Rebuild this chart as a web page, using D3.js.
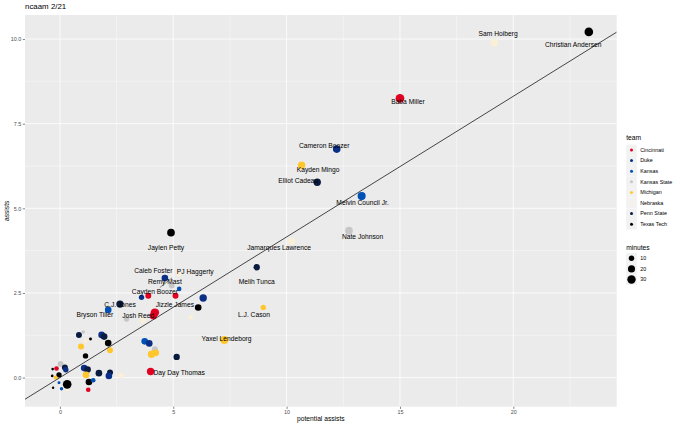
<!DOCTYPE html>
<html>
<head>
<meta charset="utf-8">
<script src="https://cdn.jsdelivr.net/npm/d3@7"></script>
<style>
  html, body { margin: 0; padding: 0; background: #fff; }
  svg { display: block; font-family: "Liberation Sans", Arial, sans-serif; }
</style>
</head>
<body>
<svg id="chart" width="680" height="426"></svg>
<script>
// --- data ---
const title = "ncaam 2/21";
const teams = ["Cincinnati", "Duke", "Kansas", "Kansas State", "Michigan", "Nebraska", "Penn State", "Texas Tech"];
const teamColors = ["#E00122", "#0A2F86", "#0050B5", "#C6C6C6", "#FFC72C", "#FBEFD6", "#0B1B3F", "#000000"];

// [team, potential assists, assists, minutes]
const players = [
    ["Texas Tech", 23.33, 10.21, 32],
    ["Nebraska", 19.16, 9.89, 22],
    ["Cincinnati", 15.0, 8.25, 33],
    ["Duke", 12.21, 6.75, 24],
    ["Michigan", 10.66, 6.27, 22],
    ["Penn State", 11.35, 5.77, 22],
    ["Kansas", 13.31, 5.36, 27],
    ["Kansas State", 12.75, 4.34, 24],
    ["Nebraska", 10.22, 4.03, 19],
    ["Texas Tech", 4.90, 4.28, 24],
    ["Penn State", 8.68, 3.26, 15],
    ["Michigan", 8.97, 2.07, 10],
    ["Michigan", 7.25, 1.11, 27],
    ["Cincinnati", 4.00, 0.18, 22],
    ["Cincinnati", 4.19, 1.92, 30],
    ["Cincinnati", 4.12, 1.83, 22],
    ["Penn State", 2.65, 2.17, 22],
    ["Kansas", 2.13, 2.00, 17],
    ["Duke", 3.60, 2.37, 10],
    ["Cincinnati", 3.90, 2.42, 13],
    ["Cincinnati", 5.10, 2.42, 13],
    ["Duke", 6.32, 2.35, 22],
    ["Texas Tech", 6.10, 2.07, 17],
    ["Duke", 4.63, 2.94, 17],
    ["Nebraska", 5.25, 3.07, 10],
    ["Kansas State", 4.93, 2.72, 13],
    ["Kansas", 5.26, 2.62, 6.5],
    ["Kansas State", 2.94, 1.73, 10],
    ["Nebraska", 3.67, 1.68, 10],
    ["Nebraska", 5.77, 1.78, 6.5],
    ["Kansas", 3.74, 1.07, 17],
    ["Duke", 3.94, 1.01, 17],
    ["Kansas State", 4.19, 0.84, 13],
    ["Michigan", 4.04, 0.69, 22],
    ["Michigan", 4.23, 0.73, 17],
    ["Penn State", 5.15, 0.61, 15],
    ["Penn State", 0.84, 1.26, 13],
    ["Kansas State", 1.03, 1.35, 2.6],
    ["Nebraska", 1.13, 1.09, 6.5],
    ["Michigan", 0.93, 0.92, 13],
    ["Texas Tech", 1.35, 1.14, 1.7],
    ["Duke", 1.84, 1.26, 17],
    ["Penn State", 1.95, 1.21, 17],
    ["Texas Tech", 2.13, 1.02, 17],
    ["Michigan", 2.21, 0.81, 13],
    ["Texas Tech", 1.13, 0.64, 10],
    ["Kansas State", 0.03, 0.40, 13],
    ["Cincinnati", -0.15, 0.27, 6.5],
    ["Penn State", 0.22, 0.30, 13],
    ["Duke", 0.26, 0.23, 10],
    ["Texas Tech", -0.04, 0.08, 10],
    ["Texas Tech", -0.32, 0.25, 1],
    ["Texas Tech", -0.34, 0.05, 1],
    ["Michigan", -0.19, 0.00, 4.3],
    ["Kansas", -0.04, -0.15, 1.7],
    ["Nebraska", 0.32, -0.34, 6.5],
    ["Texas Tech", 0.32, -0.20, 32],
    ["Kansas", 0.07, -0.33, 2.6],
    ["Texas Tech", -0.30, -0.30, 0.7],
    ["Duke", 1.07, 0.28, 17],
    ["Penn State", 1.22, 0.24, 17],
    ["Michigan", 1.15, 0.08, 17],
    ["Texas Tech", 1.28, -0.13, 17],
    ["Kansas", 1.47, -0.08, 6.5],
    ["Penn State", 1.72, 0.13, 17],
    ["Penn State", 2.21, 0.15, 13],
    ["Duke", 2.16, 0.05, 17],
    ["Cincinnati", 1.25, -0.36, 6.5],
    ["Nebraska", 2.69, 0.07, 10],
];

// repelled name labels: [name, x, y] (text centre, data units)
const labels = [
    ["Sam Hoiberg", 19.33, 10.15],
    ["Christian Andersen", 22.64, 9.84],
    ["Baba Miller", 15.35, 8.16],
    ["Cameron Boozer", 11.66, 6.84],
    ["Kayden Mingo", 11.39, 6.15],
    ["Elliot Cadeau", 10.51, 5.82],
    ["Melvin Council Jr.", 13.35, 5.16],
    ["Nate Johnson", 13.35, 4.15],
    ["Jamarques Lawrence", 9.67, 3.83],
    ["Jaylen Petty", 4.68, 3.83],
    ["Melih Tunca", 8.68, 2.83],
    ["L.J. Cason", 8.56, 1.85],
    ["Yaxel Lendeborg", 7.35, 1.15],
    ["Day Day Thomas", 5.26, 0.15],
    ["Josh Reed", 3.45, 1.83],
    ["Bryson Tiller", 1.54, 1.85],
    ["C.J. Jones", 2.65, 2.15],
    ["Cayden Boozer", 4.19, 2.54],
    ["Jizzle James", 5.07, 2.17],
    ["Caleb Foster", 4.12, 3.16],
    ["PJ Haggerty", 5.97, 3.14],
    ["Remy Mast", 4.63, 2.83],
];
// label leader segments: [x1, y1, x2, y2]
const segments = [[4.41, 2.66, 4.95, 2.95]];

const fitSlope = 0.4155;
const fitIntercept = 0.0;

const xDomain = [-1.54, 24.56];
const yDomain = [-0.86, 10.71];
const xTicks = [0, 5, 10, 15, 20];
const xMinor = [2.5, 7.5, 12.5, 17.5, 22.5];
const yTicks = [0, 2.5, 5, 7.5, 10];
const yMinor = [1.25, 3.75, 6.25, 8.75];
const minuteBreaks = [10, 20, 30];
const minuteMax = 37;

// --- layout ---
const panel = { left: 25, right: 616.7, top: 15, bottom: 406.7 };
const svg = d3.select("#chart");

const x = d3.scaleLinear().domain(xDomain).range([panel.left, panel.right]);
const y = d3.scaleLinear().domain(yDomain).range([panel.bottom, panel.top]);
const r = d3.scaleSqrt().domain([0, minuteMax]).range([0.65, 4.6]);
const color = d3.scaleOrdinal().domain(teams).range(teamColors);

svg.append("rect").attr("width", 680).attr("height", 426).attr("fill", "#fff");

svg.append("defs").append("clipPath").attr("id", "panel-clip")
    .append("rect")
    .attr("x", panel.left).attr("y", panel.top)
    .attr("width", panel.right - panel.left)
    .attr("height", panel.bottom - panel.top);

svg.append("rect")
    .attr("x", panel.left).attr("y", panel.top)
    .attr("width", panel.right - panel.left)
    .attr("height", panel.bottom - panel.top)
    .attr("fill", "#EBEBEB");

const grid = svg.append("g").attr("class", "grid").attr("stroke", "#fff");
grid.selectAll("line.xminor").data(xMinor).join("line").attr("class", "xminor")
    .attr("x1", d => x(d)).attr("x2", d => x(d))
    .attr("y1", panel.top).attr("y2", panel.bottom).attr("stroke-width", 0.4);
grid.selectAll("line.yminor").data(yMinor).join("line").attr("class", "yminor")
    .attr("y1", d => y(d)).attr("y2", d => y(d))
    .attr("x1", panel.left).attr("x2", panel.right).attr("stroke-width", 0.4);
grid.selectAll("line.xmajor").data(xTicks).join("line").attr("class", "xmajor")
    .attr("x1", d => x(d)).attr("x2", d => x(d))
    .attr("y1", panel.top).attr("y2", panel.bottom).attr("stroke-width", 0.8);
grid.selectAll("line.ymajor").data(yTicks).join("line").attr("class", "ymajor")
    .attr("y1", d => y(d)).attr("y2", d => y(d))
    .attr("x1", panel.left).attr("x2", panel.right).attr("stroke-width", 0.8);

// axes
const xAxis = d3.axisBottom(x).tickValues(xTicks).tickSize(2.2).tickPadding(1.5).tickFormat(d3.format("d"));
const yAxis = d3.axisLeft(y).tickValues(yTicks).tickSize(2.2).tickPadding(1.5).tickFormat(d3.format(".1f"));

function styleAxis(g) {
    g.select(".domain").remove();
    g.selectAll(".tick line").attr("stroke", "#333").attr("stroke-width", 0.6);
    g.selectAll(".tick text").attr("fill", "#4D4D4D").attr("font-size", 5.4)
        .attr("font-family", "'Liberation Sans', Arial, sans-serif");
}
svg.append("g").attr("transform", `translate(0,${panel.bottom})`).call(xAxis).call(styleAxis);
svg.append("g").attr("transform", `translate(${panel.left},0)`).call(yAxis).call(styleAxis);

// points
svg.append("g").attr("class", "points")
    .selectAll("circle")
    .data(players)
    .join("circle")
    .attr("cx", d => x(d[1]))
    .attr("cy", d => y(d[2]))
    .attr("r", d => r(d[3]))
    .attr("fill", d => color(d[0]));

// fitted line
svg.append("line")
    .attr("clip-path", "url(#panel-clip)")
    .attr("x1", x(xDomain[0])).attr("y1", y(fitIntercept + fitSlope * xDomain[0]))
    .attr("x2", x(xDomain[1])).attr("y2", y(fitIntercept + fitSlope * xDomain[1]))
    .attr("stroke", "#1a1a1a").attr("stroke-width", 0.8);

svg.append("g").attr("class", "segments")
    .selectAll("line")
    .data(segments)
    .join("line")
    .attr("x1", d => x(d[0])).attr("y1", d => y(d[1]))
    .attr("x2", d => x(d[2])).attr("y2", d => y(d[3]))
    .attr("stroke", "#222").attr("stroke-width", 0.5);

svg.append("g").attr("class", "labels")
    .selectAll("text")
    .data(labels)
    .join("text")
    .attr("x", d => x(d[1]))
    .attr("y", d => y(d[2]))
    .attr("dy", "0.36em")
    .attr("text-anchor", "middle")
    .attr("font-size", 6.7)
    .attr("fill", "#000")
    .text(d => d[0]);

// titles
svg.append("text").attr("x", panel.left).attr("y", 9.3)
    .attr("font-size", 7.9).attr("fill", "#000").text(title);
svg.append("text").attr("x", (panel.left + panel.right) / 2).attr("y", 421)
    .attr("text-anchor", "middle").attr("font-size", 6.7).attr("fill", "#000")
    .text("potential assists");
svg.append("text")
    .attr("transform", `translate(8.5,${(panel.top + panel.bottom) / 2}) rotate(-90)`)
    .attr("text-anchor", "middle").attr("font-size", 6.7).attr("fill", "#000")
    .text("assists");

// legends
const keySize = 10.6;
const legendX = 626.2;

const teamLegend = svg.append("g").attr("transform", `translate(${legendX},0)`);
teamLegend.append("text").attr("x", 0).attr("y", 140).attr("font-size", 6.7).text("team");
const teamKeys = teamLegend.selectAll("g.key")
    .data(teams)
    .join("g")
    .attr("class", "key")
    .attr("transform", (d, i) => `translate(0,${144.7 + i * keySize})`);
teamKeys.append("rect").attr("width", keySize).attr("height", keySize).attr("fill", "#F2F2F2");
teamKeys.append("circle").attr("cx", keySize / 2).attr("cy", keySize / 2).attr("r", 1.5)
    .attr("fill", d => color(d));
teamKeys.append("text").attr("x", keySize + 3.4).attr("y", keySize / 2).attr("dy", "0.35em")
    .attr("font-size", 5.4).attr("fill", "#000").text(d => d);

const sizeLegend = svg.append("g").attr("transform", `translate(${legendX},0)`);
sizeLegend.append("text").attr("x", 0).attr("y", 249.5).attr("font-size", 6.7).text("minutes");
const sizeKeys = sizeLegend.selectAll("g.key")
    .data(minuteBreaks)
    .join("g")
    .attr("class", "key")
    .attr("transform", (d, i) => `translate(0,${253 + i * keySize})`);
sizeKeys.append("rect").attr("width", keySize).attr("height", keySize).attr("fill", "#F2F2F2");
sizeKeys.append("circle").attr("cx", keySize / 2).attr("cy", keySize / 2).attr("r", d => r(d))
    .attr("fill", "#000");
sizeKeys.append("text").attr("x", keySize + 3.4).attr("y", keySize / 2).attr("dy", "0.35em")
    .attr("font-size", 5.4).attr("fill", "#000").text(d => d);
</script>
</body>
</html>
